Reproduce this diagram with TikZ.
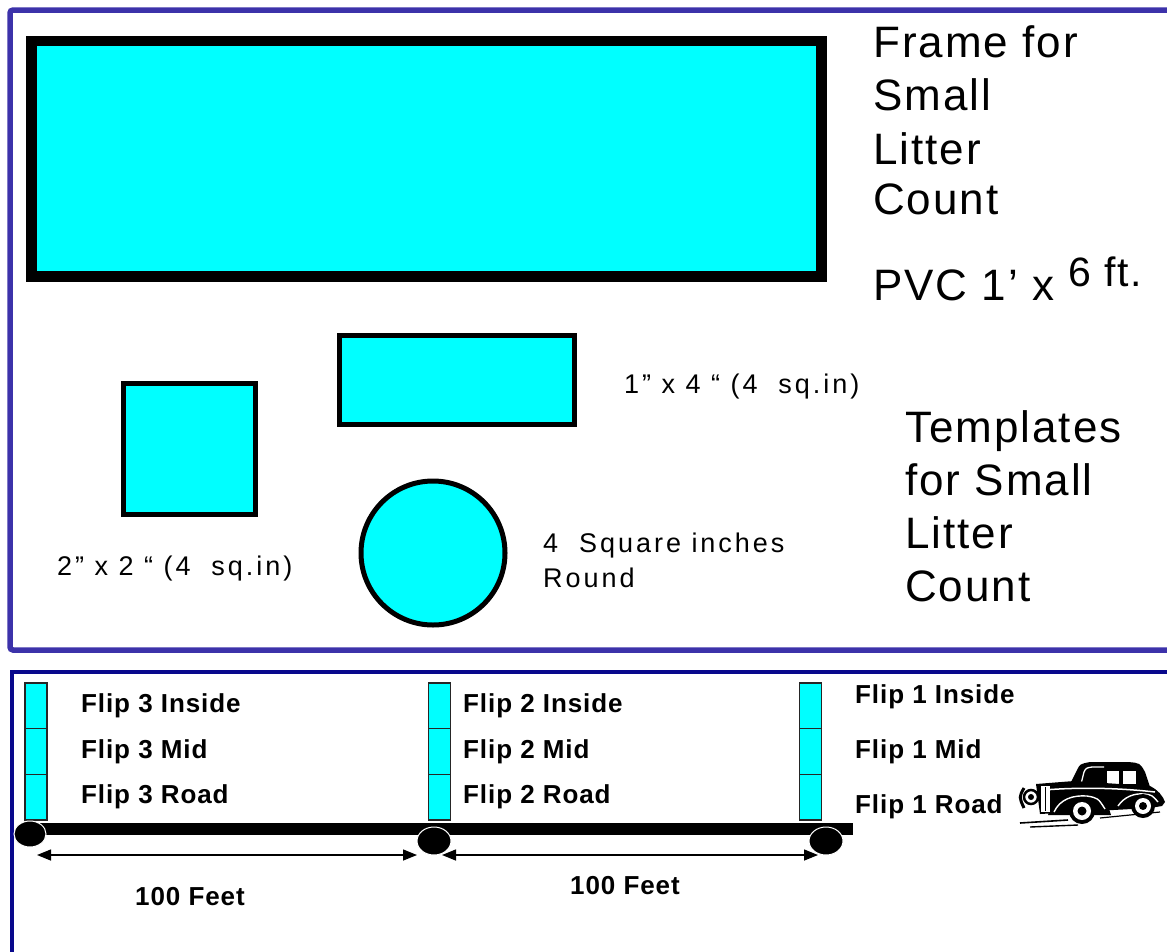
\documentclass[tikz,border=0pt]{standalone}
\usepackage{fontspec}
\setmainfont{Liberation Sans}
\usetikzlibrary{arrows.meta,shapes.geometric}
\definecolor{aqua}{HTML}{00FFFF}
\definecolor{upperblue}{HTML}{3C32AA}
\definecolor{lowernavy}{HTML}{08088C}
\begin{document}
\begin{tikzpicture}[x=1pt,y=-1pt,
  bigtext/.style={anchor=base west,inner sep=0pt,font=\fontsize{44}{52}\selectfont\addfontfeatures{LetterSpace=4.5}},
  midtext/.style={anchor=base west,inner sep=0pt,font=\fontsize{27}{32}\selectfont\addfontfeatures{LetterSpace=11}},
  fliptext/.style={anchor=base west,inner sep=0pt,font=\bfseries\fontsize{26}{30}\selectfont\addfontfeatures{LetterSpace=3.5}},
  tmpl/.style={draw=black,fill=aqua,line width=5pt},
  cell/.style={rectangle,draw=black!85,fill=aqua,line width=1.3pt,minimum width=22pt,minimum height=45.7pt,inner sep=0pt},
  wheel/.style={ellipse,fill=black,draw=white,line width=1pt,inner sep=0pt},
  dim/.style={line width=1.4pt,{Triangle[length=14pt,width=11pt]}-{Triangle[length=14pt,width=11pt]}}
]
\clip (0,0) rectangle (1167,951);
\fill[white] (0,0) rectangle (1167,951);

% ---------- upper panel: frame and templates ----------
\draw[upperblue,line width=5.5pt,rounded corners=3pt] (10,10) rectangle (1190,650);

\draw[line width=10.5pt,fill=aqua] (31.5,41) rectangle (821.5,276.5);
\draw[tmpl] (123.5,383) rectangle (255.5,514);
\draw[tmpl] (339.5,335.5) rectangle (574.5,424.5);
\draw[tmpl] (433,553) circle (72pt);

\node[bigtext] (fr1) at (873,57) {Frame for};
\node[bigtext] (fr2) at (873,110) {Small};
\node[bigtext] (fr3) at (873,164) {Litter};
\node[bigtext] (fr4) at (873,214) {Count};
\node[bigtext] (pvc) at (873,300) {PVC 1’ x \raisebox{14pt}{\fontsize{41}{48}\selectfont 6 ft.}};

\node[bigtext] (tp1) at (905,442) {Templates};
\node[bigtext] (tp2) at (905,495) {for Small};
\node[bigtext] (tp3) at (905,548) {Litter};
\node[bigtext] (tp4) at (905,601) {Count};

\node[midtext] (rectlbl) at (624,393) {1” x 4 “ (4\ \ sq.in)};
\node[midtext] (sqlbl) at (57,575) {2” x 2 “ (4\ \ sq.in)};
\node[midtext] (rnd1) at (543,552) {4\ \ Square inches};
\node[midtext] (rnd2) at (543,587) {Round};

% ---------- lower panel: transect ----------
\draw[lowernavy,line width=4.5pt] (12,672) rectangle (1190,990);

\coordinate (roadL) at (30,829);
\coordinate (roadR) at (853,829);
\draw[line width=12pt] (roadL) -- (roadR);

\foreach \n/\x in {3/36,2/439.5,1/810.5}{
  \node[cell] (f\n a) at (\x,705.8) {};
  \node[cell] (f\n b) at (\x,751.5) {};
  \node[cell] (f\n c) at (\x,797.2) {};
}

\node[wheel,minimum width=32pt,minimum height=26pt] (w3) at (30,834) {};
\node[wheel,minimum width=34pt,minimum height=28pt] (w2) at (434,841) {};
\node[wheel,minimum width=34pt,minimum height=28pt] (w1) at (826,841) {};

\coordinate (d1s) at (37,855);
\coordinate (d1e) at (417,855);
\coordinate (d2s) at (442,855);
\coordinate (d2e) at (818,855);
\draw[dim] (d1s) -- (d1e);
\draw[dim] (d2s) -- (d2e);

\node[fliptext] (l1) at (135,905) {100 Feet};
\node[fliptext] (l2) at (570,894) {100 Feet};

\node[fliptext] (t3a) at (81,712) {Flip 3 Inside};
\node[fliptext] (t3b) at (81,758) {Flip 3 Mid};
\node[fliptext] (t3c) at (81,803) {Flip 3 Road};
\node[fliptext] (t2a) at (463,712) {Flip 2 Inside};
\node[fliptext] (t2b) at (463,758) {Flip 2 Mid};
\node[fliptext] (t2c) at (463,803) {Flip 2 Road};
\node[fliptext] (t1a) at (855,703) {Flip 1 Inside};
\node[fliptext] (t1b) at (855,758) {Flip 1 Mid};
\node[fliptext] (t1c) at (855,813) {Flip 1 Road};

% ---------- vintage car ----------
% ground streaks
\draw[line width=1.6pt] (1020,823) -- (1068,820);
\draw[line width=1.4pt] (1030,827) -- (1078,825);
\draw[line width=1.2pt] (1100,818) -- (1160,812);
% cabin
\fill (1070,784) -- (1077,770) .. controls (1080,764) .. (1090,762) -- (1128,762)
  .. controls (1140,763) .. (1145,772) -- (1150,787) -- cycle;
\draw[white,line width=1.3pt] (1081,784) -- (1084,772) .. controls (1086,768) .. (1092,767) -- (1104,767);
\fill[white] (1107,771) rectangle (1119,784);
\fill[white] (1123,771) rectangle (1136,784);
% body
\fill (1036,784) -- (1074,781) -- (1150,786) .. controls (1158,790) and (1163,796) .. (1165,802)
  -- (1162,806) -- (1150,808) -- (1040,814) -- cycle;
\draw[white,line width=1.5pt] (1044,790) .. controls (1080,787) and (1120,788) .. (1155,792);
% fenders
\fill (1048,815) .. controls (1054,797) and (1070,790) .. (1088,791)
  .. controls (1102,794) and (1108,804) .. (1111,815) -- cycle;
\draw[white,line width=1.4pt] (1054,812) .. controls (1060,799) and (1073,795) .. (1087,796)
  .. controls (1098,798) .. (1105,809);
\draw[white,line width=1.4pt] (1118,806) .. controls (1124,797) and (1134,793) .. (1144,794)
  .. controls (1152,795) .. (1158,802);
% wheels
\fill (1082,811) circle (13pt);
\fill[white] (1082,811) circle (9pt);
\fill (1082,811) circle (4.5pt);
\fill (1143,806) circle (12pt);
\fill[white] (1143,806) circle (8pt);
\fill (1143,806) circle (4pt);
% grille, lamp, bumper
\fill[white] (1041,786) rectangle (1050,812);
\draw[line width=1.2pt] (1045.5,787) -- (1045.5,811);
\draw[line width=2.5pt,fill=white] (1031,797) circle (7pt);
\fill (1031,797) circle (3pt);
\draw[line width=3pt] (1024,788) .. controls (1019,797) .. (1024,808);
\end{tikzpicture}
\end{document}
